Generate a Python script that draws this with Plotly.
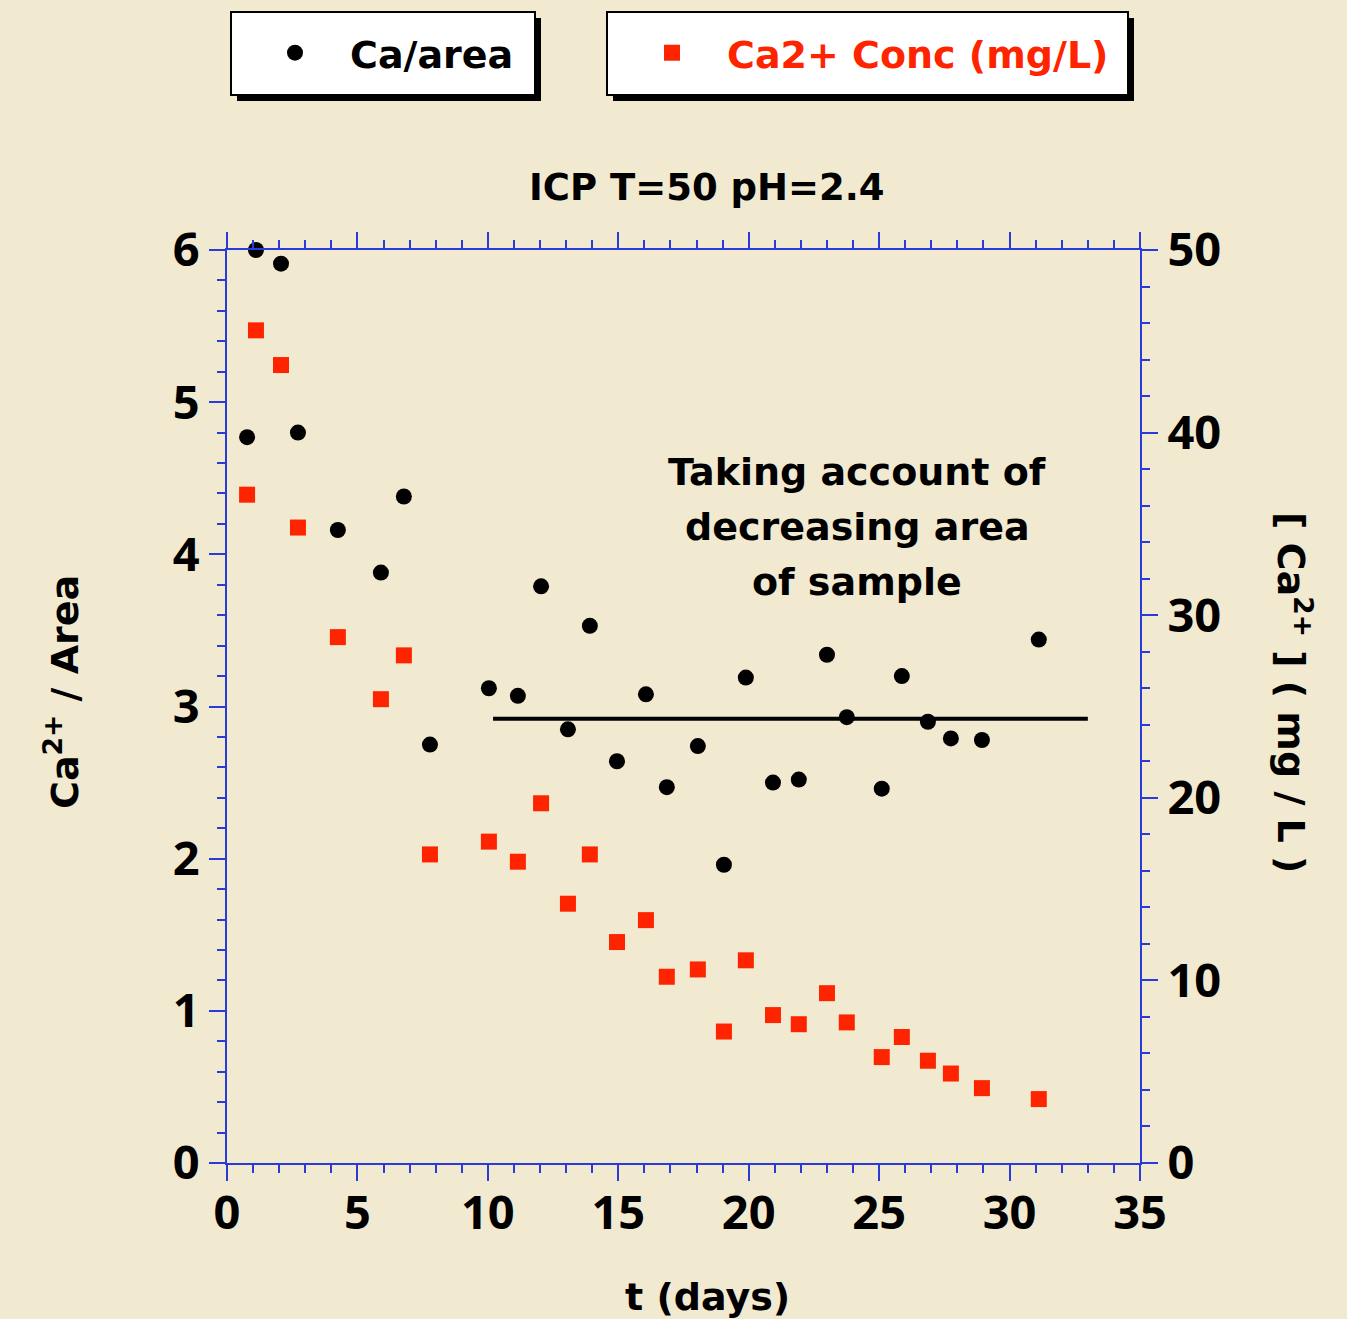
import plotly.graph_objects as go

# Sampling times (days)
t_days = [0.77, 1.11, 2.07, 2.72, 4.25, 5.90, 6.78, 7.78, 10.04, 11.15,
          12.04, 13.07, 13.91, 14.95, 16.06, 16.86, 18.05, 19.05, 19.89, 20.93,
          21.92, 23.00, 23.76, 25.10, 25.87, 26.87, 27.75, 28.94, 31.12]

# Ca2+ released per unit sample area
ca_per_area = [4.77, 6.00, 5.91, 4.80, 4.16, 3.88, 4.38, 2.75, 3.12, 3.07,
               3.79, 2.85, 3.53, 2.64, 3.08, 2.47, 2.74, 1.96, 3.19, 2.50,
               2.52, 3.34, 2.93, 2.46, 3.20, 2.90, 2.79, 2.78, 3.44]

# Ca2+ concentration (mg/L)
ca_conc = [36.6, 45.6, 43.7, 34.8, 28.8, 25.4, 27.8, 16.9, 17.6, 16.5,
           19.7, 14.2, 16.9, 12.1, 13.3, 10.2, 10.6, 7.2, 11.1, 8.1,
           7.6, 9.3, 7.7, 5.8, 6.9, 5.6, 4.9, 4.1, 3.5]

# Mean Ca/area level after day 10
mean_t = [10.2, 33.0]
mean_level = [2.92, 2.92]

BG = "#f2e9d1"
AXIS_BLUE = "#2a3bdc"
RED = "#ff2400"
FONT = "DejaVu Sans"
TICK_FONT = "Open Sans"

# plot area in pixels
L, R, T, B = 227, 1140, 250, 1163
W, H = 1347, 1319
PW, PH = R - L, B - T


def px(xp):
    return (xp - L) / PW


def py(yp):
    return (B - yp) / PH


fig = go.Figure()

fig.add_trace(go.Scatter(
    x=t_days, y=ca_per_area, mode="markers", name="Ca/area",
    marker=dict(symbol="circle", size=16, color="black"),
    legend="legend", yaxis="y", cliponaxis=False,
))
fig.add_trace(go.Scatter(
    x=t_days, y=ca_conc, mode="markers", name="Ca2+ Conc (mg/L)",
    marker=dict(symbol="square", size=16, color=RED),
    legend="legend2", yaxis="y2", cliponaxis=False,
))
fig.add_trace(go.Scatter(
    x=mean_t, y=mean_level, mode="lines", showlegend=False,
    line=dict(color="black", width=4), yaxis="y",
))

tickfont = dict(family=TICK_FONT, size=47, color="black", weight="bold")
minor_ticks = dict(ticks="outside", ticklen=8, tickwidth=2, tickcolor=AXIS_BLUE)

fig.update_layout(
    width=W, height=H,
    margin=dict(l=L, r=W - R, t=T, b=H - B),
    paper_bgcolor=BG, plot_bgcolor=BG,
    font=dict(family=FONT, color="black"),
    xaxis=dict(
        range=[0, 35], dtick=5, tick0=0, showgrid=False, zeroline=False,
        showline=True, linecolor=AXIS_BLUE, linewidth=2, mirror="ticks",
        ticks="outside", ticklen=16, tickwidth=2, tickcolor=AXIS_BLUE,
        minor=dict(dtick=1, **minor_ticks),
        tickfont=tickfont, ticklabelstandoff=-8,
    ),
    yaxis=dict(
        range=[0, 6], dtick=1, tick0=0, showgrid=False, zeroline=False,
        showline=True, linecolor=AXIS_BLUE, linewidth=2,
        ticks="outside", ticklen=16, tickwidth=2, tickcolor=AXIS_BLUE,
        minor=dict(dtick=0.2, **minor_ticks),
        tickfont=tickfont, ticklabelstandoff=0,
    ),
    yaxis2=dict(
        range=[0, 50], dtick=10, tick0=0, showgrid=False, zeroline=False,
        overlaying="y", side="right",
        showline=True, linecolor=AXIS_BLUE, linewidth=2,
        ticks="outside", ticklen=16, tickwidth=2, tickcolor=AXIS_BLUE,
        minor=dict(dtick=2, **minor_ticks),
        tickfont=tickfont, ticklabelstandoff=0,
    ),
    legend=dict(
        x=px(240), y=py(53), xanchor="left", yanchor="middle",
        bgcolor="rgba(0,0,0,0)", borderwidth=0, itemwidth=100,
        font=dict(family=FONT, size=38, color="black", weight="bold"),
    ),
    legend2=dict(
        x=px(617), y=py(53), xanchor="left", yanchor="middle",
        bgcolor="rgba(0,0,0,0)", borderwidth=0, itemwidth=100,
        font=dict(family=FONT, size=38, color=RED, weight="bold"),
    ),
    showlegend=True,
)

# legend frames with drop shadows
for x0, x1 in [(231, 535), (607, 1128)]:
    fig.add_shape(type="rect", xref="paper", yref="paper",
                  x0=px(x0 + 6), x1=px(x1 + 6), y0=py(101), y1=py(18),
                  fillcolor="black", line=dict(width=0), layer="above")
    fig.add_shape(type="rect", xref="paper", yref="paper",
                  x0=px(x0), x1=px(x1), y0=py(95), y1=py(12),
                  fillcolor="white", line=dict(color="black", width=2), layer="above")


def label(text, xc, yc, angle=0, size=38):
    fig.add_annotation(text=text, xref="paper", yref="paper",
                       x=px(xc), y=py(yc), xanchor="center", yanchor="middle",
                       showarrow=False, textangle=angle,
                       font=dict(family=FONT, size=size, color="black", weight="bold"))


label("ICP T=50 pH=2.4", 707, 188, size=37)
label("t (days)", 707, 1297)
label("Ca<sup>2+</sup> / Area", 62, 692, angle=-90)
label("[ Ca<sup>2+</sup> ] ( mg / L )", 1294, 692, angle=90)

for line, yc in [("Taking account of", 472), ("decreasing area", 527), ("of sample", 582)]:
    label(line, 857, yc)

fig.write_html("out.html")
